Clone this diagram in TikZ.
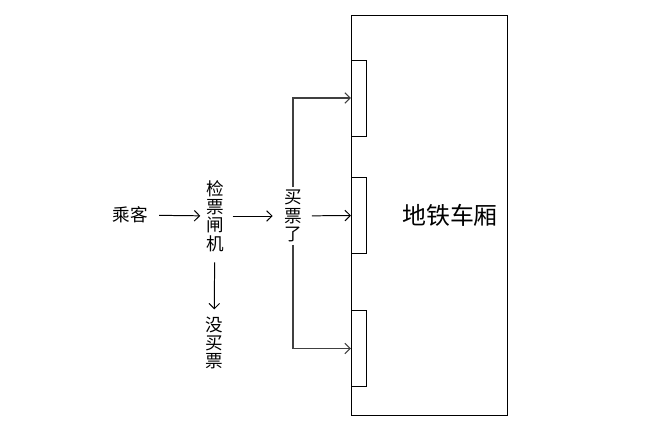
\documentclass[tikz,border=0pt]{standalone}
\usepackage{fontspec}
\newfontfamily\cjk{Noto Sans CJK SC}
\usepackage{tikz}
\usetikzlibrary{calc,positioning,arrows.meta}

\begin{document}
\begin{tikzpicture}[
  x=0.025cm, y=-0.025cm,
  word/.style={inner sep=2pt, font=\cjk\fontsize{12.5}{13}\selectfont, align=center},
  bigword/.style={inner sep=2pt, font=\cjk\fontsize{17}{18}\selectfont},
  car/.style={draw, line width=0.6pt, minimum width=156*0.025cm, minimum height=400*0.025cm, inner sep=0pt},
  door/.style={draw, fill=white, line width=0.6pt, minimum width=15*0.025cm, minimum height=76*0.025cm, inner sep=0pt, anchor=west},
  arr/.style={-{Straight Barb[length=3.8pt, width=7.5pt]}, line width=0.7pt},
  link/.style={line width=0.8pt, black!75}
]
\useasboundingbox (0,0) rectangle (654,445);

\node[car] (train) at (429,215) {};
\node[door] (door1) at (351,98) {};
\node[door] (door2) at (351,215.5) {};
\node[door] (door3) at (351,348.5) {};
\node[bigword] (trainlabel) at (450,215) {地铁车厢};

\node[word] (passenger) at (130,215) {乘客};
\node[word] (gate) at (215,216) {检\\票\\闸\\机};
\node[word] (bought) at (293,216) {买\\票\\了};
\node[word] (nobuy) at (214,343) {没\\买\\票};

\draw[arr, shorten <=6pt, shorten >=2pt] (passenger) -- (gate);
\draw[arr, shorten <=4pt, shorten >=6pt] (gate) -- (bought);
\draw[arr, shorten <=5pt] (bought) -- (door2.west);
\draw[arr, link] (bought.north) |- (door1.west);
\draw[arr, link] (bought.south) |- (door3.west);
\draw[arr, shorten <=5.5pt, shorten >=3pt] (gate) -- (nobuy);
\end{tikzpicture}
\end{document}
